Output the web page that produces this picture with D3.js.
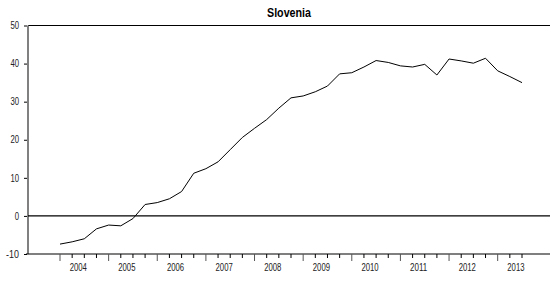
<!DOCTYPE html>
<html lang="en">
<head>
    <meta charset="UTF-8">
    <title>Slovenia</title>
    <script src="https://d3js.org/d3.v7.min.js"></script>
    <style>
        body { margin: 0; background: #fff; }
        text { font-family: "Liberation Sans", Arial, sans-serif; }
    </style>
</head>
<body>
    <div id="chart"></div>
    <script>
        // quarterly observations, 2004Q1 - 2013Q3
        const years = ["2004", "2005", "2006", "2007", "2008", "2009", "2010", "2011", "2012", "2013"];
        const quarters = [
            "2004Q1", "2004Q2", "2004Q3", "2004Q4",
            "2005Q1", "2005Q2", "2005Q3", "2005Q4",
            "2006Q1", "2006Q2", "2006Q3", "2006Q4",
            "2007Q1", "2007Q2", "2007Q3", "2007Q4",
            "2008Q1", "2008Q2", "2008Q3", "2008Q4",
            "2009Q1", "2009Q2", "2009Q3", "2009Q4",
            "2010Q1", "2010Q2", "2010Q3", "2010Q4",
            "2011Q1", "2011Q2", "2011Q3", "2011Q4",
            "2012Q1", "2012Q2", "2012Q3", "2012Q4",
            "2013Q1", "2013Q2", "2013Q3"
        ];
        const values = [
            -7.4, -6.8, -6.0, -3.4,
            -2.4, -2.6, -0.7, 3.0,
            3.5, 4.5, 6.4, 11.2,
            12.4, 14.2, 17.4, 20.6,
            23.0, 25.3, 28.3, 31.0,
            31.5, 32.6, 34.1, 37.3,
            37.6, 39.1, 40.8, 40.3,
            39.4, 39.1, 39.8, 37.0,
            41.2, 40.7, 40.1, 41.4,
            38.1, 36.6, 35.0
        ];
        const yTicks = [-10, 0, 10, 20, 30, 40, 50];

        const width = 550, height = 285;
        const plotLeft = 28, plotRight = 550, plotTop = 25.5, plotBottom = 254;

        // the original uses a narrow font, squeeze glyphs to match
        const narrow = s => s.length * 4.3;

        const svg = d3.select("#chart").append("svg")
            .attr("width", width)
            .attr("height", height);

        // index scale: first obs sits a bit in from the left axis
        const step = (522 - 60) / (quarters.length - 1);
        const x = d3.scaleLinear()
            .domain([-(60 - plotLeft) / step, quarters.length - 1 + (plotRight - 522) / step])
            .range([plotLeft, plotRight]);
        const y = d3.scaleLinear().domain([-10, 50]).range([plotBottom, plotTop]);

        // title
        svg.append("text")
            .attr("x", 289)
            .attr("y", 17)
            .attr("text-anchor", "middle")
            .attr("font-size", 12)
            .attr("font-weight", "bold")
            .attr("textLength", 44)
            .attr("lengthAdjust", "spacingAndGlyphs")
            .text("Slovenia");

        // top frame line
        svg.append("line")
            .attr("x1", plotLeft).attr("x2", plotRight)
            .attr("y1", y(50)).attr("y2", y(50))
            .attr("stroke", "#000").attr("stroke-width", 1.2);

        // y axis
        const yAxis = svg.append("g")
            .attr("transform", `translate(${plotLeft - 1},0)`)
            .call(d3.axisLeft(y).tickValues(yTicks).tickSize(3).tickPadding(5).tickFormat(d => String(d)));
        yAxis.select(".domain").remove();
        yAxis.selectAll("text")
            .attr("font-size", 10)
            .attr("fill", "#222")
            .attr("textLength", d => narrow(String(d)))
            .attr("lengthAdjust", "spacingAndGlyphs");
        yAxis.selectAll("line").attr("stroke", "#000");

        svg.append("line")
            .attr("x1", plotLeft).attr("x2", plotLeft)
            .attr("y1", y(50)).attr("y2", y(-10))
            .attr("stroke", "#808080").attr("stroke-width", 2);

        // bottom axis line
        svg.append("line")
            .attr("x1", plotLeft - 2).attr("x2", plotRight)
            .attr("y1", plotBottom).attr("y2", plotBottom)
            .attr("stroke", "#000").attr("stroke-width", 1.2);

        // zero line
        svg.append("line")
            .attr("x1", plotLeft).attr("x2", plotRight)
            .attr("y1", y(0)).attr("y2", y(0))
            .attr("stroke", "#000").attr("stroke-width", 1.2);

        // quarterly ticks, longer at each Q1
        svg.append("g").selectAll("line")
            .data(quarters)
            .join("line")
            .attr("x1", (d, i) => x(i)).attr("x2", (d, i) => x(i))
            .attr("y1", plotBottom)
            .attr("y2", d => d.endsWith("Q1") ? plotBottom + 7 : plotBottom + 4)
            .attr("stroke", d => d.endsWith("Q1") ? "#555" : "#000")
            .attr("stroke-width", 1);

        svg.append("g").selectAll("text")
            .data(years)
            .join("text")
            .attr("x", d => x(quarters.indexOf(d + "Q1") + 1.5))
            .attr("y", 271)
            .attr("text-anchor", "middle")
            .attr("font-size", 10)
            .attr("fill", "#222")
            .attr("textLength", d => narrow(d))
            .attr("lengthAdjust", "spacingAndGlyphs")
            .text(d => d);

        // series
        const line = d3.line()
            .x((d, i) => x(i))
            .y(d => y(d));

        svg.append("path")
            .datum(values)
            .attr("d", line)
            .attr("fill", "none")
            .attr("stroke", "#000")
            .attr("stroke-width", 1);
    </script>
</body>
</html>
